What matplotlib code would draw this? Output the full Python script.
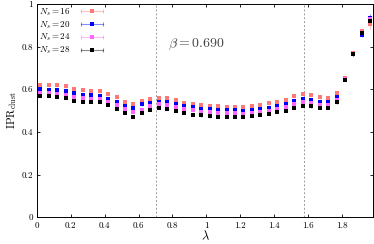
import matplotlib
matplotlib.use("Agg")
import matplotlib.pyplot as plt
from matplotlib.colors import to_rgba
from matplotlib.lines import Line2D
from matplotlib.legend_handler import HandlerLine2D

plt.rcParams['font.family'] = 'cmr10'
plt.rcParams['mathtext.fontset'] = 'cm'
plt.rcParams['axes.formatter.use_mathtext'] = True

lam = [0.02, 0.07, 0.12, 0.17, 0.22, 0.27, 0.32, 0.37, 0.42, 0.47,
       0.52, 0.57, 0.62, 0.67, 0.72, 0.77, 0.82, 0.87, 0.92, 0.97,
       1.02, 1.07, 1.12, 1.17, 1.22, 1.27, 1.32, 1.37, 1.42, 1.47,
       1.52, 1.57, 1.62, 1.67, 1.72, 1.77, 1.82, 1.87, 1.92, 1.97]

ipr_16 = [0.621, 0.620, 0.618, 0.614, 0.601, 0.595, 0.592, 0.590, 0.578, 0.564,
          0.541, 0.530, 0.544, 0.555, 0.561, 0.558, 0.548, 0.537, 0.531, 0.527,
          0.523, 0.520, 0.516, 0.518, 0.517, 0.522, 0.528, 0.533, 0.539, 0.551,
          0.567, 0.579, 0.575, 0.564, 0.558, 0.584, 0.653, 0.768, 0.872, 0.905]
ipr_20 = [0.601, 0.598, 0.595, 0.590, 0.581, 0.575, 0.572, 0.569, 0.555, 0.542,
          0.522, 0.511, 0.530, 0.533, 0.539, 0.539, 0.531, 0.523, 0.515, 0.508,
          0.505, 0.502, 0.502, 0.502, 0.498, 0.502, 0.508, 0.514, 0.520, 0.531,
          0.547, 0.556, 0.551, 0.542, 0.539, 0.563, 0.648, 0.763, 0.855, 0.935]
ipr_24 = [0.583, 0.583, 0.579, 0.575, 0.564, 0.559, 0.556, 0.555, 0.539, 0.527,
          0.506, 0.492, 0.502, 0.520, 0.530, 0.525, 0.517, 0.509, 0.502, 0.495,
          0.492, 0.489, 0.489, 0.487, 0.484, 0.489, 0.494, 0.500, 0.506, 0.515,
          0.531, 0.541, 0.536, 0.528, 0.525, 0.550, 0.648, 0.765, 0.862, 0.930]
ipr_28 = [0.570, 0.570, 0.564, 0.561, 0.547, 0.539, 0.541, 0.541, 0.525, 0.508,
          0.490, 0.470, 0.489, 0.502, 0.511, 0.508, 0.497, 0.489, 0.481, 0.477,
          0.473, 0.472, 0.472, 0.472, 0.470, 0.475, 0.480, 0.486, 0.494, 0.498,
          0.514, 0.523, 0.519, 0.511, 0.511, 0.539, 0.645, 0.764, 0.862, 0.922]

err_16 = [0.009] * 35 + [0.01, 0.008, 0.008, 0.01, 0.024]
err_20 = [0.008] * 35 + [0.008, 0.008, 0.008, 0.01, 0.016]
err_24 = [0.007] * 35 + [0.008, 0.008, 0.008, 0.008, 0.01]
err_28 = [0.006] * 35 + [0.007, 0.007, 0.007, 0.008, 0.008]

series = [(ipr_16, err_16, '$N_s = 16$', '#ff7878'),
          (ipr_20, err_20, '$N_s = 20$', '#0000ff'),
          (ipr_24, err_24, '$N_s = 24$', '#ff66ff'),
          (ipr_28, err_28, '$N_s = 28$', '#000000')]

beta_text = r'$\beta = 0.690$'
vlines = [0.705, 1.575]

fig = plt.figure(figsize=(3.74, 2.44), dpi=100)
ax = fig.add_axes([0.099, 0.11, 0.898, 0.874])

handles = []
hmap = {}
for y, e, lab, col in series:
    ecol = to_rgba(col, 0.45)
    ax.errorbar(lam, y, yerr=e, fmt='s', ms=2.3, mew=0, color=col, ecolor=ecol,
                elinewidth=0.8, capsize=1.3, capthick=0.8)
    bar = Line2D([], [], color=ecol, lw=0.8, marker='|', ms=3.5, mew=0.8)
    sq = Line2D([], [], color=col, marker='s', ms=2.3, mew=0, ls='none')
    hmap[bar] = HandlerLine2D(numpoints=2)
    hmap[sq] = HandlerLine2D(numpoints=1)
    handles.append(((bar, sq), lab))

for v in vlines:
    ax.axvline(v, color='#999999', ls=(0, (2, 2)), lw=0.7)

ax.text(0.94, 0.81, beta_text, ha='center', va='center', fontsize=10, color='#444444')

ax.set_xlim(0, 1.985)
ax.set_ylim(0, 1)
ax.set_xticks([0, 0.2, 0.4, 0.6, 0.8, 1, 1.2, 1.4, 1.6, 1.8])
ax.set_xticklabels(['0', '0.2', '0.4', '0.6', '0.8', '1', '1.2', '1.4', '1.6', '1.8'])
ax.set_yticks([0, 0.2, 0.4, 0.6, 0.8, 1])
ax.set_yticklabels(['0', '0.2', '0.4', '0.6', '0.8', '1'])
ax.tick_params(direction='in', top=True, right=True, labelsize=6.5,
               length=2.5, width=0.6, pad=3)
for s in ax.spines.values():
    s.set_linewidth(0.7)
ax.set_xlabel(r'$\lambda$', fontsize=9, labelpad=0)
ax.set_ylabel(r'IPR$_{\rm clust}$', fontsize=8, labelpad=2)

ax.legend([h for h, _ in handles], [l for _, l in handles], handler_map=hmap,
          loc='upper left', fontsize=6.5, frameon=False, markerfirst=False,
          handlelength=3.0, borderpad=0.15, borderaxespad=0.1,
          labelspacing=0.15, handletextpad=0.8)

fig.savefig('out.png', dpi=100)
